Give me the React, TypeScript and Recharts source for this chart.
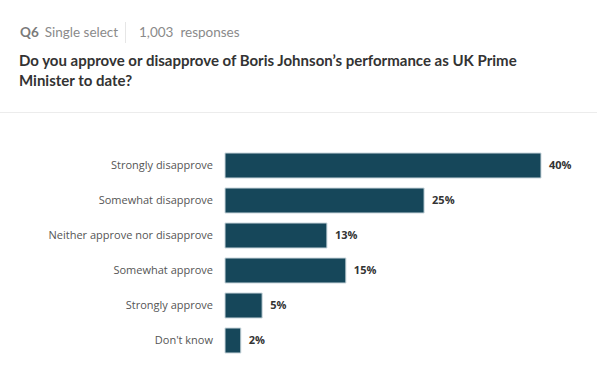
import { BarChart, Bar, XAxis, YAxis, LabelList } from 'recharts';

const categories = [
  'Strongly disapprove',
  'Somewhat disapprove',
  'Neither approve nor disapprove',
  'Somewhat approve',
  'Strongly approve',
  "Don't know",
];
const shares = [40, 25.2, 12.9, 15.3, 4.7, 2.0];

const data = categories.map((name, i) => ({ name, value: shares[i] }));

const FONT = '"Open Sans", "Noto Sans", sans-serif';
const HEAD_FONT = 'Lato, "Open Sans", sans-serif';

export default function App() {
  return (
    <div
      style={{
        position: 'absolute',
        left: 0,
        top: 0,
        width: 597,
        height: 390,
        background: '#fff',
        fontFamily: HEAD_FONT,
        overflow: 'hidden',
      }}
    >
      <div style={{ position: 'absolute', left: 20, top: 24, fontSize: 13.5, color: '#8a8a8a', whiteSpace: 'nowrap' }}>
        <span style={{ fontWeight: 700, color: '#7a7a7a' }}>Q6</span>
        <span style={{ marginLeft: 6 }}>Single select</span>
      </div>
      <div style={{ position: 'absolute', left: 125, top: 22, width: 1, height: 21, background: '#e6e6e6' }} />
      <div style={{ position: 'absolute', left: 139, top: 24, fontSize: 13.5, color: '#8a8a8a', whiteSpace: 'nowrap' }}>
        1,003<span style={{ marginLeft: 7 }}>responses</span>
      </div>
      <div
        style={{
          position: 'absolute',
          left: 19,
          top: 50,
          width: 510,
          fontSize: 15,
          lineHeight: '20px',
          fontWeight: 700,
          color: '#333',
        }}
      >
        Do you approve or disapprove of Boris Johnson’s performance as UK Prime Minister to date?
      </div>
      <div style={{ position: 'absolute', left: 0, top: 112, width: 597, height: 1, background: '#ececec' }} />
      <div style={{ position: 'absolute', left: 0, top: 0 }}>
        <BarChart
          width={597}
          height={390}
          data={data}
          layout="vertical"
          margin={{ top: 148, right: 56, bottom: 32, left: 0 }}
          barCategoryGap={5}
        >
          <XAxis type="number" domain={[0, 40]} hide />
          <YAxis
            type="category"
            dataKey="name"
            width={225}
            axisLine={false}
            tickLine={false}
            tickSize={0}
            tickMargin={12}
            tick={{ fontSize: 11, fill: '#555', fontFamily: FONT }}
          />
          <Bar dataKey="value" fill="#16475a" stroke="#c9d6dc" strokeWidth={1} isAnimationActive={false}>
            <LabelList
              dataKey="value"
              position="right"
              offset={8}
              formatter={(v: number) => `${Math.round(v)}%`}
              style={{ fontSize: 11, fontWeight: 700, fill: '#333', fontFamily: FONT }}
            />
          </Bar>
        </BarChart>
      </div>
    </div>
  );
}
